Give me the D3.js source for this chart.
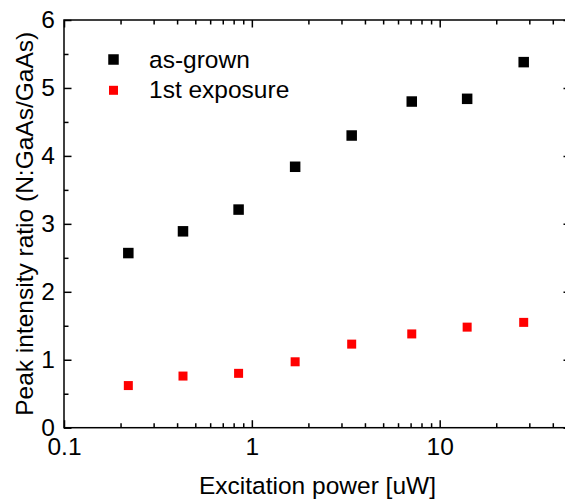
<!DOCTYPE html>
<html>
<head>
<meta charset="utf-8">
<script src="https://cdn.jsdelivr.net/npm/d3@7"></script>
<style>
  html, body { margin: 0; padding: 0; background: #fff; }
  svg text { font-family: "Liberation Sans", Arial, sans-serif; fill: #000; }
</style>
</head>
<body>
<svg id="chart" width="565" height="504"></svg>
<script>
// ---- data ----
const power = [0.22, 0.43, 0.85, 1.7, 3.4, 7.1, 14, 28];
const asGrown = [2.57, 2.89, 3.21, 3.84, 4.30, 4.80, 4.84, 5.38];
const firstExposure = [0.62, 0.76, 0.80, 0.97, 1.23, 1.38, 1.48, 1.55];
const seriesNames = ["as-grown", "1st exposure"];
const seriesColors = ["#000000", "#ff0000"];
const xMajorTicks = [0.1, 1, 10];
const xTickLabels = ["0.1", "1", "10"];
const yMajorTicks = [0, 1, 2, 3, 4, 5, 6];
const yMinorTicks = [0.5, 1.5, 2.5, 3.5, 4.5, 5.5];
const xTitle = "Excitation power [uW]";
const yTitle = "Peak intensity ratio (N:GaAs/GaAs)";

// ---- layout ----
const svg = d3.select("#chart");
const L = 64, R = 571, T = 20, B = 427.7;

const x = d3.scaleLog().domain([0.1, 50]).range([L, R]);
const y = d3.scaleLinear().domain([0, 6]).range([B, T]);

const xMinorTicks = x.ticks().filter(v => !xMajorTicks.some(m => Math.abs(m - v) < 1e-9));

const fontSize = 24.5;
const majorLen = 7.5, minorLen = 4.5;

function styleAxis(g) {
  g.select(".domain").remove();
  g.selectAll(".tick line").attr("stroke", "#000").attr("stroke-width", 1.5);
  g.selectAll(".tick text").attr("font-size", fontSize).attr("font-family", "Liberation Sans, Arial, sans-serif");
}

// bottom axis (major with labels, minor)
svg.append("g").attr("transform", `translate(0,${B})`)
  .call(d3.axisBottom(x).tickValues(xMajorTicks).tickSize(-majorLen).tickPadding(10)
    .tickFormat((d, i) => xTickLabels[i]))
  .call(styleAxis);
svg.append("g").attr("transform", `translate(0,${B})`)
  .call(d3.axisBottom(x).tickValues(xMinorTicks).tickSize(-minorLen).tickFormat(""))
  .call(styleAxis);
// top axis
svg.append("g").attr("transform", `translate(0,${T})`)
  .call(d3.axisTop(x).tickValues(xMajorTicks).tickSize(-majorLen).tickFormat(""))
  .call(styleAxis);
svg.append("g").attr("transform", `translate(0,${T})`)
  .call(d3.axisTop(x).tickValues(xMinorTicks).tickSize(-minorLen).tickFormat(""))
  .call(styleAxis);
// left axis
svg.append("g").attr("transform", `translate(${L},0)`)
  .call(d3.axisLeft(y).tickValues(yMajorTicks).tickSize(-majorLen).tickPadding(9)
    .tickFormat(d3.format("d")))
  .call(styleAxis);
svg.append("g").attr("transform", `translate(${L},0)`)
  .call(d3.axisLeft(y).tickValues(yMinorTicks).tickSize(-minorLen).tickFormat(""))
  .call(styleAxis);
// right axis
svg.append("g").attr("transform", `translate(${R},0)`)
  .call(d3.axisRight(y).tickValues(yMajorTicks).tickSize(-majorLen).tickFormat(""))
  .call(styleAxis);
svg.append("g").attr("transform", `translate(${R},0)`)
  .call(d3.axisRight(y).tickValues(yMinorTicks).tickSize(-minorLen).tickFormat(""))
  .call(styleAxis);

// frame
svg.append("rect").attr("x", L).attr("y", T).attr("width", R - L).attr("height", B - T)
  .attr("fill", "none").attr("stroke", "#000").attr("stroke-width", 1.5);

// ---- points ----
const series = [
  { name: seriesNames[0], values: asGrown, color: seriesColors[0], size: 10.5 },
  { name: seriesNames[1], values: firstExposure, color: seriesColors[1], size: 9 }
];
series.forEach(s => {
  svg.append("g").selectAll("rect").data(power.map((p, i) => [p, s.values[i]])).join("rect")
    .attr("x", d => x(d[0]) - s.size / 2)
    .attr("y", d => y(d[1]) - s.size / 2)
    .attr("width", s.size).attr("height", s.size)
    .attr("fill", s.color);
});

// ---- legend ----
const legendY = [59.5, 90.3];
const legendBaseline = [68, 97.5];
series.forEach((s, i) => {
  svg.append("rect").attr("x", 113.5 - s.size / 2).attr("y", legendY[i] - s.size / 2)
    .attr("width", s.size).attr("height", s.size).attr("fill", s.color);
  svg.append("text").attr("x", 149).attr("y", legendBaseline[i])
    .attr("font-size", fontSize).text(s.name);
});

// ---- titles ----
svg.append("text").attr("x", (L + R) / 2).attr("y", 494)
  .attr("text-anchor", "middle").attr("font-size", fontSize).text(xTitle);
svg.append("text")
  .attr("transform", `translate(33,${(T + B) / 2}) rotate(-90)`)
  .attr("text-anchor", "middle").attr("font-size", fontSize).text(yTitle);
</script>
</body>
</html>
